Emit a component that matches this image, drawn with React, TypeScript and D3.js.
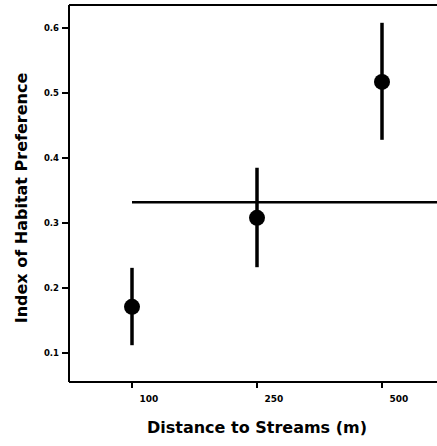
import React from "react";
import * as d3 from "d3";

const categories = ["100", "250", "500"];
const means = [0.171, 0.308, 0.517];
const lower = [0.112, 0.232, 0.428];
const upper = [0.231, 0.385, 0.608];
const referenceLine = 0.332;
const yTicks = [0.1, 0.2, 0.3, 0.4, 0.5, 0.6];
const yTickLabels = ["0.1", "0.2", "0.3", "0.4", "0.5", "0.6"];

const W = 437;
const H = 446;
const left = 69;
const top = 5;
const bottom = 382;
const right = 437;

export default function App() {
  const x = d3.scalePoint<string>().domain(categories).range([132, 382]);
  const y = d3.scaleLinear().domain([0.1, 0.6]).range([353, 28]);
  const font = "'DejaVu Sans', 'Liberation Sans', sans-serif";

  return (
    <svg
      width={W}
      height={H}
      style={{ position: "absolute", left: 0, top: 0, background: "#fff" }}
      fontFamily={font}
    >
      {/* frame */}
      <line x1={left} y1={top} x2={right} y2={top} stroke="#000" strokeWidth={2} />
      <line x1={left} y1={top} x2={left} y2={bottom} stroke="#000" strokeWidth={2} />
      <line x1={left} y1={bottom} x2={right} y2={bottom} stroke="#000" strokeWidth={2} />

      {/* y ticks */}
      {yTicks.map((t, i) => (
        <g key={t}>
          <line x1={left - 7} x2={left} y1={y(t)} y2={y(t)} stroke="#000" strokeWidth={2} />
          <text
            x={left - 10}
            y={y(t)}
            dy="0.35em"
            textAnchor="end"
            fontSize={8.5}
            fontWeight="bold"
          >
            {yTickLabels[i]}
          </text>
        </g>
      ))}

      {/* x ticks */}
      {categories.map((c) => (
        <g key={c}>
          <line x1={x(c)} x2={x(c)} y1={bottom} y2={bottom + 6} stroke="#000" strokeWidth={2} />
          <text
            x={(x(c) as number) + 17}
            y={bottom + 17}
            dy="0.35em"
            textAnchor="middle"
            fontSize={9}
            fontWeight="bold"
          >
            {c}
          </text>
        </g>
      ))}

      {/* reference line */}
      <line
        x1={x(categories[0])}
        x2={right}
        y1={y(referenceLine)}
        y2={y(referenceLine)}
        stroke="#000"
        strokeWidth={2.5}
      />

      {/* error bars and points */}
      {categories.map((c, i) => (
        <g key={"p" + c}>
          <line
            x1={x(c)}
            x2={x(c)}
            y1={y(lower[i])}
            y2={y(upper[i])}
            stroke="#000"
            strokeWidth={3.5}
          />
          <circle cx={x(c)} cy={y(means[i])} r={8} fill="#000" />
        </g>
      ))}

      {/* axis titles */}
      <text
        x={257}
        y={433}
        textAnchor="middle"
        fontSize={16}
        fontWeight="bold"
      >
        Distance to Streams (m)
      </text>
      <text
        transform={`translate(27, 198) rotate(-90)`}
        textAnchor="middle"
        fontSize={16}
        fontWeight="bold"
      >
        Index of Habitat Preference
      </text>
    </svg>
  );
}
